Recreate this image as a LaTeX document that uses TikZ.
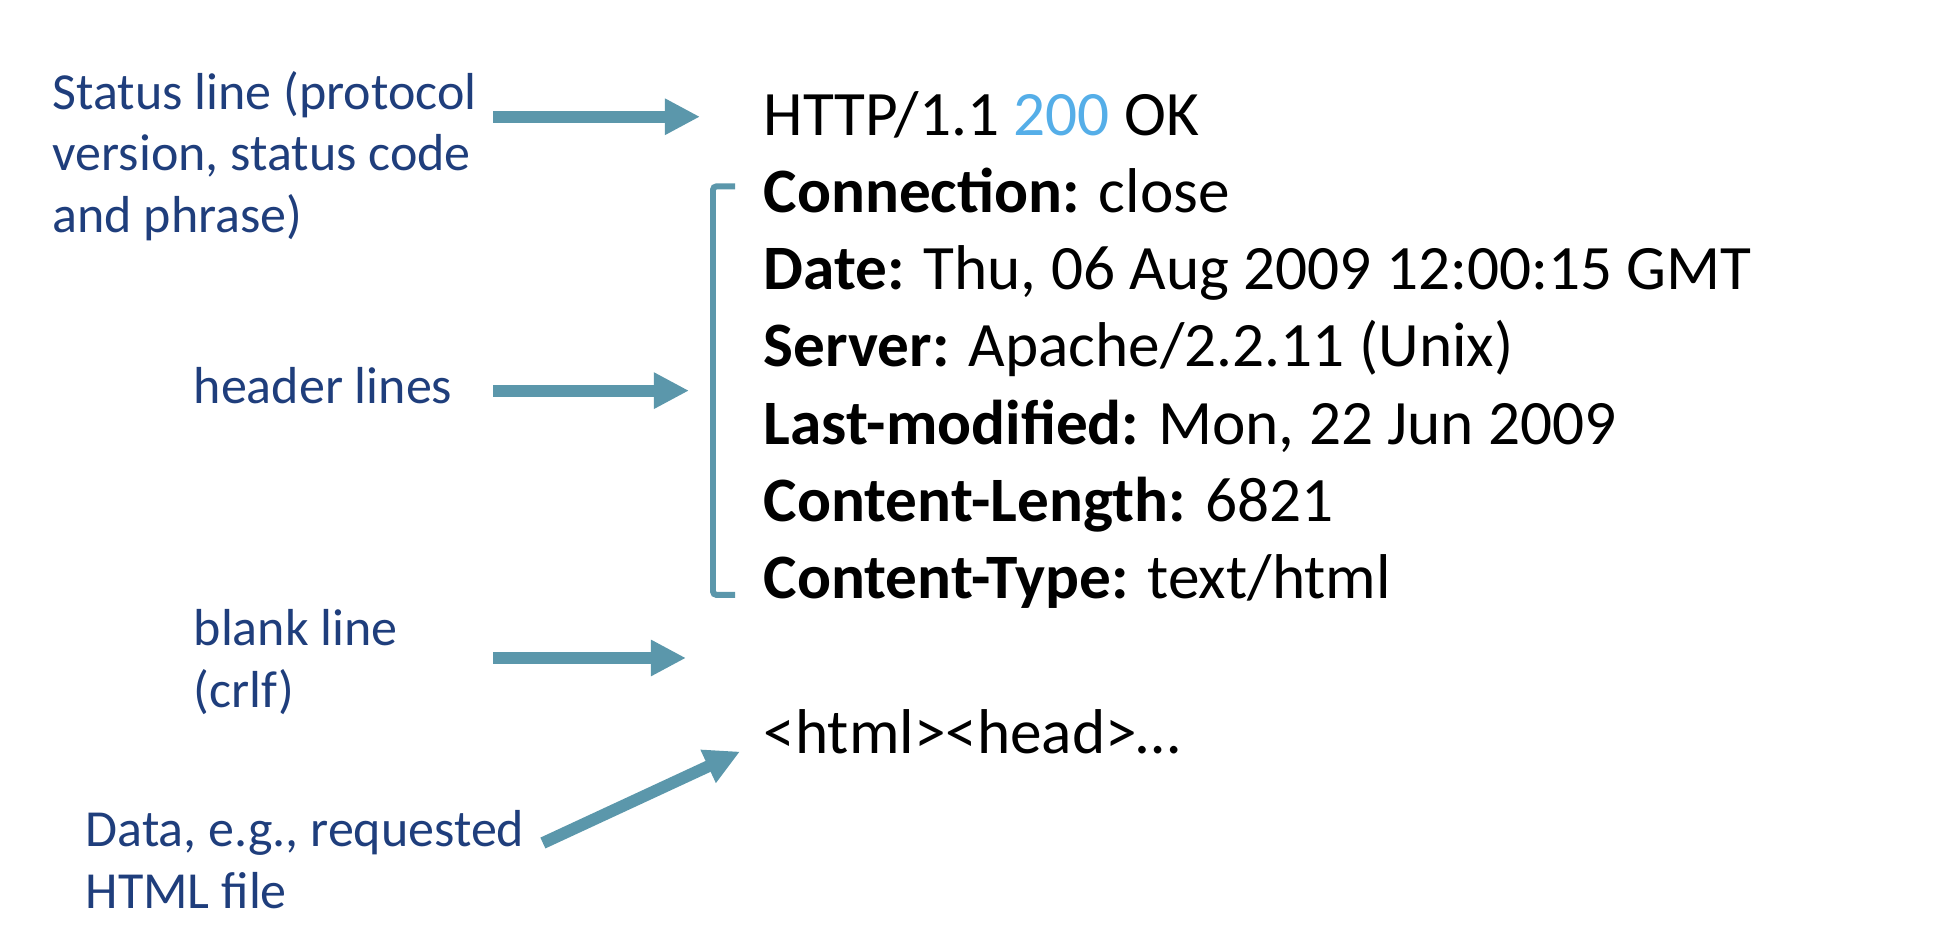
\documentclass[tikz,border=0pt]{standalone}
\usepackage{fontspec}
\setmainfont{Carlito}
\usetikzlibrary{
    arrows.meta,
    calc,
    positioning,
}
\definecolor{ArrowTeal}{HTML}{5B97AB}
\definecolor{NoteBlue}{HTML}{1F3E7C}
\definecolor{CodeBlue}{HTML}{55AEE8}
\tikzstyle{note}=[anchor=base west,align=left,inner sep=0pt,text=NoteBlue,font=\fontsize{14.8}{17.4}\selectfont]
\tikzstyle{msgline}=[inner sep=0pt,text height=16pt,text depth=5.6pt,font=\fontsize{18}{21}\selectfont]
\tikzstyle{pointer}=[draw=ArrowTeal,line width=3.4pt,-{Triangle[length=10pt,width=9.7pt]}]
\tikzstyle{bracket}=[draw=ArrowTeal,line width=1.7pt,rounded corners=1pt]

\begin{document}
\begin{tikzpicture}[x=0.1mm,y=-0.1mm]
    \useasboundingbox (0,0) rectangle (1946,936);

    % response message
    \node[msgline,anchor=base west] (status) at (763,135) {HTTP/1.1 \textcolor{CodeBlue}{200} OK};
    \node[msgline,below=0pt of status.south west,anchor=north west] (conn) {\textbf{Connection:} close};
    \node[msgline,below=0pt of conn.south west,anchor=north west] (date) {\textbf{Date:} Thu, 06 Aug 2009 12:00:15 GMT};
    \node[msgline,below=0pt of date.south west,anchor=north west] (server) {\textbf{Server:} Apache/2.2.11 (Unix)};
    \node[msgline,below=0pt of server.south west,anchor=north west] (modified) {\textbf{Last-modified:} Mon, 22 Jun 2009};
    \node[msgline,below=0pt of modified.south west,anchor=north west] (length) {\textbf{Content-Length:} 6821};
    \node[msgline,below=0pt of length.south west,anchor=north west] (ctype) {\textbf{Content-Type:} text/html};
    \node[msgline,below=0pt of ctype.south west,anchor=north west] (blank) {};
    \node[msgline,below=0pt of blank.south west,anchor=north west] (html) {<html><head>…};

    % notes on the left (base = last line)
    \node[note] (statuslbl) at (52,232) {Status line (protocol\\version, status code\\and phrase)};
    \node[note] (headerlbl) at (193,403) {header lines};
    \node[note] (blanklbl) at (193,707) {blank line\\(crlf)};
    \node[note] (datalbl) at (85,908) {Data, e.g., requested\\HTML file};

    % bracket round the header lines
    \coordinate (btop) at ($(conn.base west)+(-50,-26)$);
    \coordinate (bbot) at ($(ctype.base west)+(-50,-4)$);
    \coordinate (brace) at ($(btop)!.5!(bbot)$);
    \draw[bracket] ($(btop)+(22,0)$) -- (btop) -- (bbot) -- ($(bbot)+(22,0)$);

    % arrows
    \coordinate (tail) at (493,0);
    \draw[pointer] (tail |- status.west) -- ($(status.west)+(-63,0)$);
    \draw[pointer] (tail |- brace) -- ($(brace)+(-24,0)$);
    \draw[pointer] (tail |- blank.west) -- ($(blank.west)+(-77,0)$);
    \draw[pointer] ($(datalbl.base east)+(18,-65)$) -- ($(html.base west)+(-23,-2)$);
\end{tikzpicture}
\end{document}
